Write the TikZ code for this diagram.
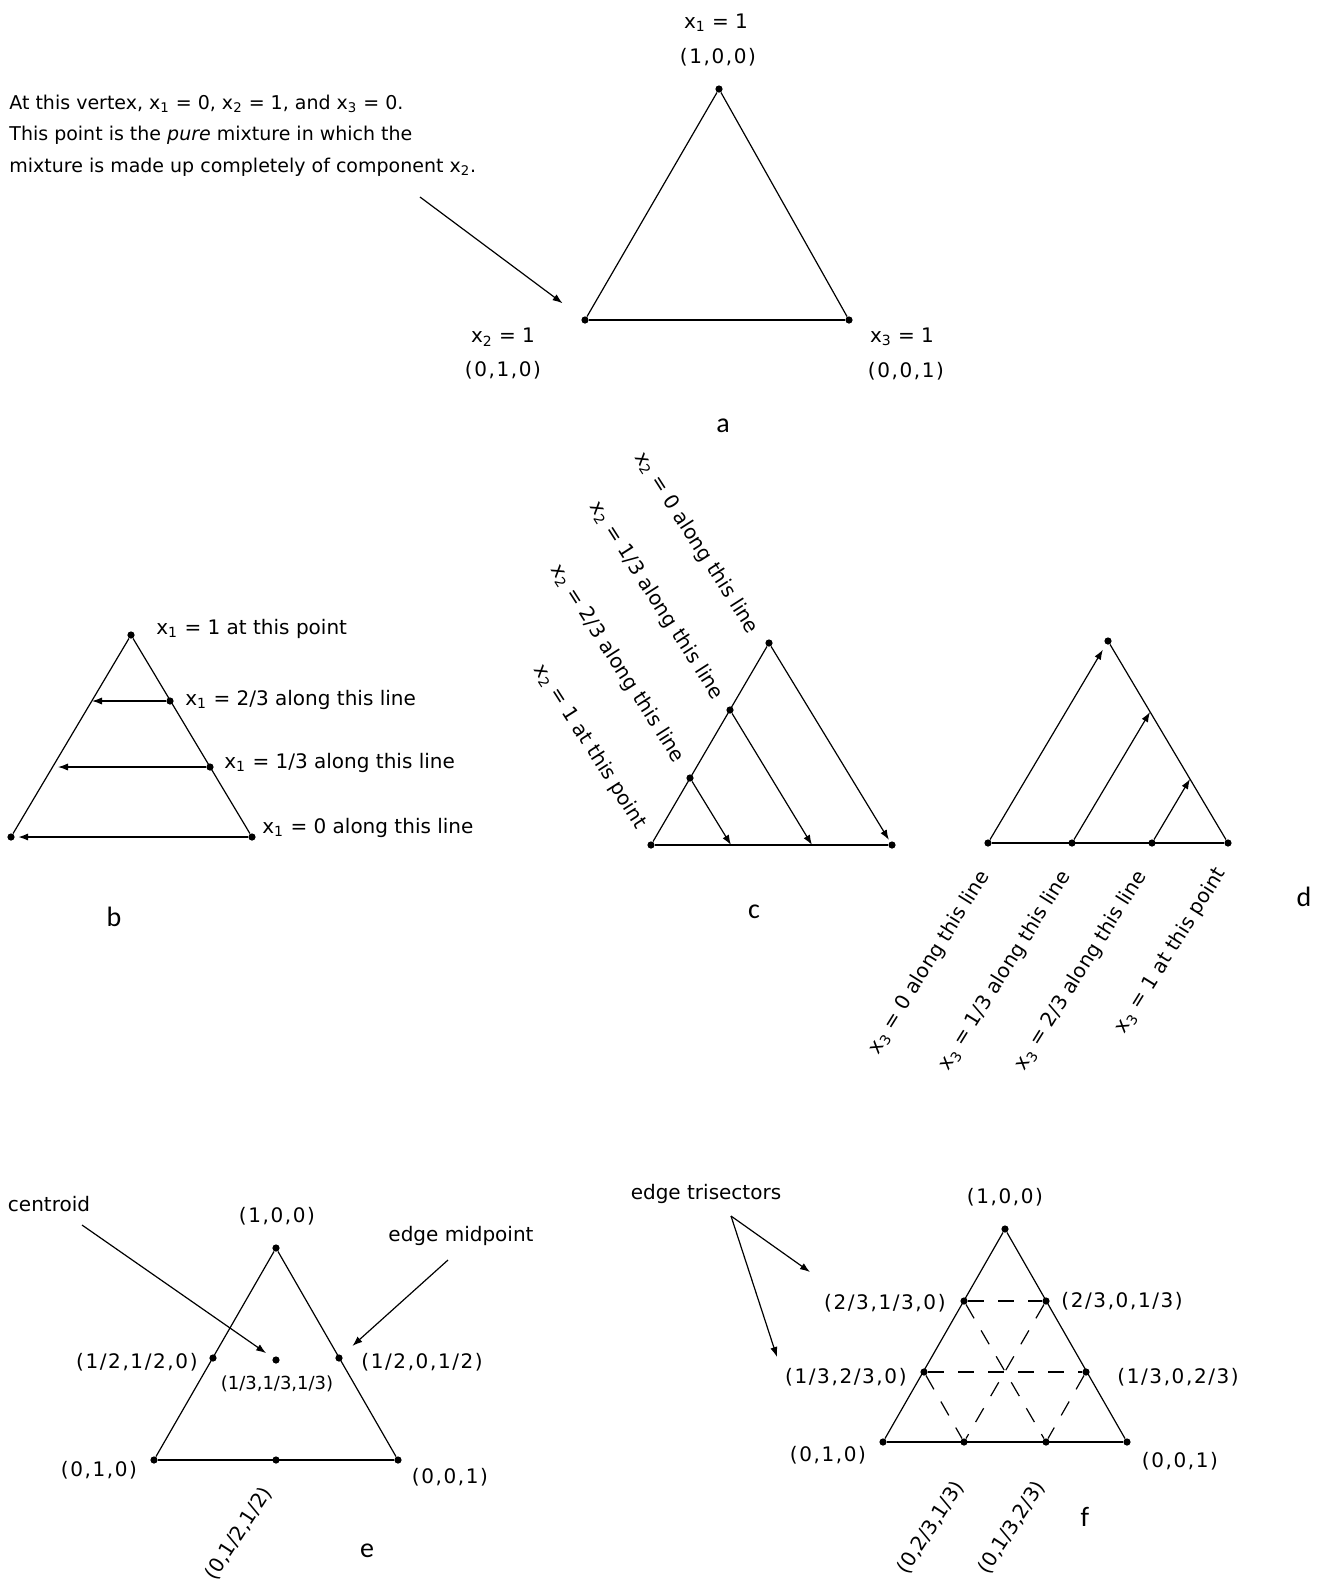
\documentclass[tikz,border=0pt]{standalone}
\usepackage{fontspec}
\setmainfont{DejaVu Sans}
\newfontfamily\panelfont{Carlito}
\usetikzlibrary{arrows.meta}

\newcommand{\xsub}[1]{x\textsubscript{#1}}

\tikzset{
    vertex/.style={circle,fill=black,inner sep=0pt,minimum size=3.6pt},
    txt/.style={font=\fontsize{10}{12}\selectfont,inner sep=0.5pt},
    crd/.style={font=\fontsize{10}{12}\selectfont\addfontfeature{LetterSpace=8},inner sep=0.5pt},
    tag/.style={font=\panelfont\fontsize{14}{16}\selectfont,inner sep=0pt},
    sideline/.style={draw=black,line width=0.6pt},
    bottomline/.style={draw=black,line width=0.9pt},
    ptr/.style={-{Latex[length=5pt,width=3.6pt]}},
    dashline/.style={draw=black,line width=0.6pt,dash pattern=on 8pt off 7pt}
}

\begin{document}
\begin{tikzpicture}[x=0.5pt,y=-0.5pt]
\useasboundingbox (0,0) rectangle (1318,1587);

% --- a: the pure mixtures at the vertices
\begin{scope}[every node/.style={vertex}]
    \node (a1) at (719,89) {};
    \node (a2) at (585,320) {};
    \node (a3) at (849,320) {};
\end{scope}

\begin{scope}[every node/.style={txt}]
    \node (a1name) at (716,23) {\xsub{1} = 1};
    \node[crd] (a1crd) at (718,57) {(1,0,0)};
    \node (a2name) at (503,337) {\xsub{2} = 1};
    \node[crd] (a2crd) at (503,370) {(0,1,0)};
    \node (a3name) at (902,337) {\xsub{3} = 1};
    \node[crd] (a3crd) at (906,371) {(0,0,1)};
\end{scope}
\begin{scope}[every node/.style={txt,anchor=west,font=\fontsize{9.5}{12}\selectfont}]
    \node (note1) at (8,104) {At this vertex, \xsub{1} = 0, \xsub{2} = 1, and \xsub{3} = 0.};
    \node (note2) at (8,135) {This point is the \textit{pure} mixture in which the};
    \node (note3) at (8,167) {mixture is made up completely of component \xsub{2}.};
\end{scope}
\coordinate (notetail) at (420,197);
\node[tag] (taga) at (723,426) {a};

\begin{scope}[every edge/.style={sideline}]
    \path (a1) edge (a2);
    \path (a1) edge (a3);
    \path (a2) edge[bottomline] (a3);
    \path [ptr] (notetail) edge[shorten >=12pt] (a2);
\end{scope}

% --- b: lines of constant x1
\begin{scope}[every node/.style={vertex}]
    \node (b1) at (131,635) {};
    \node (b2) at (11,837) {};
    \node (b3) at (252,837) {};
    \node (b4) at (170,701) {};
    \node (b5) at (210,767) {};
\end{scope}
\coordinate (b4end) at (92,701);
\coordinate (b5end) at (58,767);

\begin{scope}[every node/.style={txt,anchor=west}]
    \node (b1lbl) at (155,629) {\xsub{1} = 1 at this point};
    \node (b4lbl) at (184,700) {\xsub{1} = 2/3 along this line};
    \node (b5lbl) at (223,763) {\xsub{1} = 1/3 along this line};
    \node (b3lbl) at (261,828) {\xsub{1} = 0 along this line};
\end{scope}
\node[tag] (tagb) at (114,917) {b};

\begin{scope}[every edge/.style={sideline}]
    \path (b1) edge (b2);
    \path (b1) edge (b3);
    \path [ptr] (b4) edge (b4end);
    \path [ptr] (b5) edge (b5end);
    \path [ptr] (b3) edge[bottomline,shorten >=1.5pt] (b2);
\end{scope}

% --- c: lines of constant x2
\begin{scope}[every node/.style={vertex}]
    \node (c1) at (769,643) {};
    \node (c2) at (651,845) {};
    \node (c3) at (892,845) {};
    \node (c4) at (730,710) {};
    \node (c5) at (690,778) {};
\end{scope}
\coordinate (c4end) at (812,845);
\coordinate (c5end) at (731,845);

\begin{scope}[every node/.style={txt,anchor=east,rotate=-57.4}]
    \node (c1lbl) at (754,633) {\xsub{2} = 0 along this line};
    \node (c4lbl) at (719,699) {\xsub{2} = 1/3 along this line};
    \node (c5lbl) at (680,762) {\xsub{2} = 2/3 along this line};
    \node (c2lbl) at (642,828) {\xsub{2} = 1 at this point};
\end{scope}
\node[tag] (tagc) at (754,912) {c};

\begin{scope}[every edge/.style={sideline}]
    \path (c2) edge (c1);
    \path [ptr] (c1) edge[shorten >=1pt] (c3);
    \path [ptr] (c4) edge (c4end);
    \path [ptr] (c5) edge (c5end);
    \path (c2) edge[bottomline] (c3);
\end{scope}

% --- d: lines of constant x3
\begin{scope}[every node/.style={vertex}]
    \node (d1) at (1108,641) {};
    \node (d2) at (988,843) {};
    \node (d3) at (1228,843) {};
    \node (d4) at (1072,843) {};
    \node (d5) at (1152,843) {};
\end{scope}
\coordinate (d4end) at (1150,712);
\coordinate (d5end) at (1190,779);

\begin{scope}[every node/.style={txt,anchor=east,rotate=58}]
    \node (d2lbl) at (986,872) {\xsub{3} = 0 along this line};
    \node (d4lbl) at (1067,872) {\xsub{3} = 1/3 along this line};
    \node (d5lbl) at (1143,872) {\xsub{3} = 2/3 along this line};
    \node (d3lbl) at (1222,869) {\xsub{3} = 1 at this point};
\end{scope}
\node[tag] (tagd) at (1304,897) {d};

\begin{scope}[every edge/.style={sideline}]
    \path [ptr] (d2) edge[shorten >=3pt] (d1);
    \path (d1) edge (d3);
    \path [ptr] (d4) edge (d4end);
    \path [ptr] (d5) edge (d5end);
    \path (d2) edge[bottomline] (d3);
\end{scope}

% --- e: centroid and edge midpoints
\begin{scope}[every node/.style={vertex}]
    \node (e1) at (276,1248) {};
    \node (e2) at (154,1460) {};
    \node (e3) at (398,1460) {};
    \node (e4) at (276,1460) {};
    \node (e5) at (213,1358) {};
    \node (e6) at (339,1358) {};
    \node (e7) at (276,1360) {};
\end{scope}

\begin{scope}[every node/.style={crd}]
    \node (e1lbl) at (277,1216) {(1,0,0)};
    \node[anchor=east] (e5lbl) at (199,1362) {(1/2,1/2,0)};
    \node[txt,font=\fontsize{9}{11}\selectfont] (e7lbl) at (277,1384) {(1/3,1/3,1/3)};
    \node[anchor=west] (e6lbl) at (360,1362) {(1/2,0,1/2)};
    \node (e2lbl) at (99,1470) {(0,1,0)};
    \node (e3lbl) at (450,1477) {(0,0,1)};
    \node[txt,anchor=east,rotate=57] (e4lbl) at (268,1488) {(0,1/2,1/2)};
    \node[txt] (centlbl) at (49,1204) {centroid};
    \node[txt] (midlbl) at (461,1236) {edge midpoint};
\end{scope}
\coordinate (centtail) at (82,1225);
\coordinate (midtail) at (448,1260);
\node[tag] (tage) at (367,1551) {e};

\begin{scope}[every edge/.style={sideline}]
    \path (e1) edge (e2);
    \path (e1) edge (e3);
    \path (e2) edge[bottomline] (e3);
    \path [ptr] (centtail) edge[shorten >=4pt] (e7);
    \path [ptr] (midtail) edge[shorten >=7pt] (e6);
\end{scope}

% --- f: edge trisectors
\begin{scope}[every node/.style={vertex}]
    \node (f1) at (1005,1229) {};
    \node (f2) at (883,1442) {};
    \node (f3) at (1127,1442) {};
    \node (f4) at (964,1301) {};
    \node (f5) at (1046,1301) {};
    \node (f6) at (924,1372) {};
    \node (f7) at (1086,1372) {};
    \node (f8) at (964,1442) {};
    \node (f9) at (1046,1442) {};
\end{scope}

\begin{scope}[every node/.style={crd}]
    \node (f1lbl) at (1005,1197) {(1,0,0)};
    \node[anchor=east] (f4lbl) at (947,1303) {(2/3,1/3,0)};
    \node[anchor=west] (f5lbl) at (1060,1301) {(2/3,0,1/3)};
    \node[anchor=east] (f6lbl) at (908,1377) {(1/3,2/3,0)};
    \node[anchor=west] (f7lbl) at (1116,1377) {(1/3,0,2/3)};
    \node (f2lbl) at (828,1455) {(0,1,0)};
    \node (f3lbl) at (1180,1461) {(0,0,1)};
    \node[txt,anchor=east,rotate=57] (f8lbl) at (960,1482) {(0,2/3,1/3)};
    \node[txt,anchor=east,rotate=57] (f9lbl) at (1041,1482) {(0,1/3,2/3)};
    \node[txt] (trilbl) at (706,1194) {edge trisectors};
\end{scope}
\coordinate (tritail) at (731,1216);
\coordinate (trihead1) at (810,1272);
\coordinate (trihead2) at (777,1357);
\node[tag] (tagf) at (1085,1517) {f};

\begin{scope}[every edge/.style={sideline}]
    \path (f1) edge (f2);
    \path (f1) edge (f3);
    \path (f2) edge[bottomline] (f3);
    \path (f4) edge[dashline] (f5);
    \path (f6) edge[dashline] (f7);
    \path (f4) edge[dashline] (f9);
    \path (f6) edge[dashline] (f8);
    \path (f5) edge[dashline] (f8);
    \path (f7) edge[dashline] (f9);
    \path [ptr] (tritail) edge (trihead1);
    \path [ptr] (tritail) edge (trihead2);
\end{scope}
\end{tikzpicture}
\end{document}
